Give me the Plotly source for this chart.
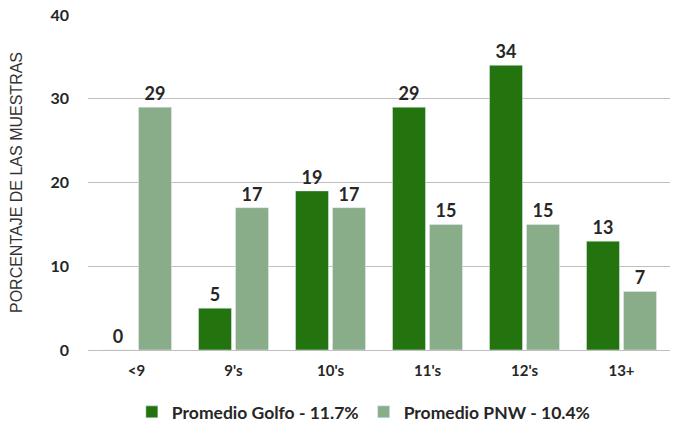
import plotly.graph_objects as go

categories = ["<9", "9's", "10's", "11's", "12's", "13+"]
golfo = [0, 5, 19, 29, 34, 13]
pnw = [29, 17, 17, 15, 15, 7]
golfo_name = "Promedio Golfo - 11.7%"
pnw_name = "Promedio PNW - 10.4%"

label_font = dict(family="Lato, Open Sans, sans-serif", size=18, color="#262626")

fig = go.Figure()
fig.add_trace(go.Bar(
    x=categories, y=golfo, name=golfo_name,
    marker=dict(color="#23740f"),
    text=golfo, textposition="outside", textfont=label_font,
    cliponaxis=False,
))
fig.add_trace(go.Bar(
    x=categories, y=pnw, name=pnw_name,
    marker=dict(color="#89ad89"),
    text=pnw, textposition="outside", textfont=label_font,
    cliponaxis=False,
))

fig.update_layout(
    width=673, height=423,
    margin=dict(l=88, r=3, t=15, b=73, autoexpand=False),
    plot_bgcolor="white", paper_bgcolor="white",
    barmode="group", bargap=0.237, bargroupgap=0.108,
    showlegend=True,
    legend=dict(
        orientation="h", x=0.474, xanchor="center", y=-0.185, yanchor="middle",
        font=dict(family="Lato, Open Sans, sans-serif", size=17.5, color="#262626", weight="bold"),
        itemwidth=30, traceorder="normal",
    ),
    font=dict(family="Lato, Open Sans, sans-serif", color="#262626"),
)
fig.update_yaxes(
    range=[0, 40], dtick=10,
    showgrid=True, gridcolor="#bfbfbf", gridwidth=1,
    zeroline=True, zerolinecolor="#bfbfbf", zerolinewidth=1,
    tickfont=dict(family="Lato, Open Sans, sans-serif", size=16, color="#262626", weight="bold"),
    ticks="", ticklabelstandoff=18,
    title=dict(text="PORCENTAJE DE LAS MUESTRAS", standoff=23,
               font=dict(family="Liberation Sans, Arial, sans-serif", size=16, color="#333333")),
)
fig.update_xaxes(
    showline=False, ticks="",
    tickfont=dict(family="Lato, Open Sans, sans-serif", size=15, color="#262626", weight="bold"),
    ticklabelstandoff=10,
)
fig.update_traces(textfont_weight="bold")

fig.write_html("out.html")
